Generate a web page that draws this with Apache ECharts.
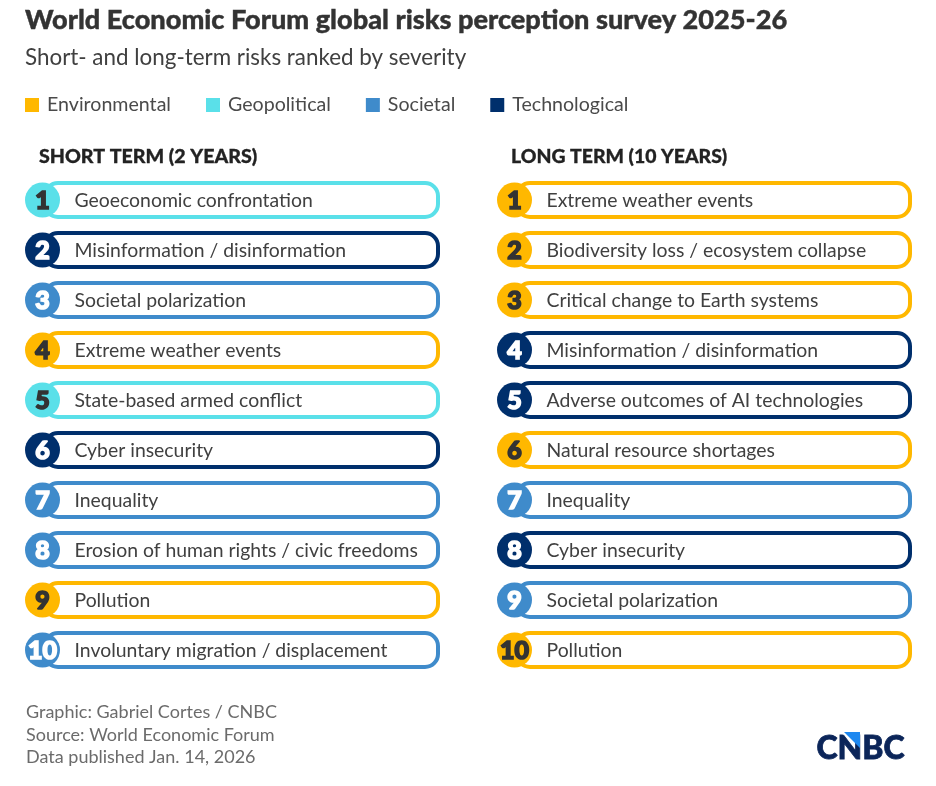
<!DOCTYPE html>
<html>
<head>
<meta charset="utf-8">
<style>
  html, body { margin: 0; padding: 0; background: #fff; }
  #chart { width: 936px; height: 786px; }
</style>
<script src="https://cdn.jsdelivr.net/npm/echarts@6/dist/echarts.min.js"></script>
</head>
<body>
<div id="chart"></div>
<script>
const riskTypes = ['Environmental', 'Geopolitical', 'Societal', 'Technological']
const typeColors = ['#FFB800', '#5AE0E9', '#3F8BCB', '#002F6C']
const numberColors = ['#333333', '#333333', '#ffffff', '#ffffff']

const shortTermRisks = [
  'Geoeconomic confrontation', 'Misinformation / disinformation', 'Societal polarization',
  'Extreme weather events', 'State-based armed conflict', 'Cyber insecurity', 'Inequality',
  'Erosion of human rights / civic freedoms', 'Pollution', 'Involuntary migration / displacement'
]
const shortTermTypes = [1, 3, 2, 0, 1, 3, 2, 2, 0, 2]

const longTermRisks = [
  'Extreme weather events', 'Biodiversity loss / ecosystem collapse', 'Critical change to Earth systems',
  'Misinformation / disinformation', 'Adverse outcomes of AI technologies', 'Natural resource shortages',
  'Inequality', 'Cyber insecurity', 'Societal polarization', 'Pollution'
]
const longTermTypes = [0, 0, 0, 3, 3, 0, 2, 3, 2, 0]

const FONT = 'Lato, "Open Sans", sans-serif'

// pill + number circle + label, one row
function renderRisk (params, api) {
  const typeIdx = params.seriesIndex % 4
  const color = typeColors[typeIdx]
  const start = api.coord([0, api.value(1)])
  const end = api.coord([1, api.value(1)])
  const band = api.size([0, 1])[1]
  const h = band * 0.68
  const rank = api.value(1) + 1
  return {
    type: 'group',
    children: [
      {
        type: 'rect',
        shape: { x: start[0] + 20, y: start[1] - h / 2, width: end[0] - start[0] - 22, height: h, r: 13 },
        style: { fill: '#fff', stroke: color, lineWidth: 4 }
      },
      {
        type: 'circle',
        shape: { cx: start[0] + 17.5, cy: start[1], r: 17.5 },
        style: { fill: color }
      },
      {
        type: 'text',
        style: {
          text: String(rank),
          x: start[0] + 17.5,
          y: start[1] + 1,
          align: 'center',
          verticalAlign: 'middle',
          fill: numberColors[typeIdx],
          stroke: numberColors[typeIdx],
          lineWidth: 1.6,
          font: '900 25px ' + FONT
        }
      },
      {
        type: 'text',
        style: {
          text: api.value(2),
          x: start[0] + 49.5,
          y: start[1] + 1,
          align: 'left',
          verticalAlign: 'middle',
          fill: '#404040',
          font: '19.4px ' + FONT
        }
      }
    ]
  }
}

function panelSeries (risks, types, panel) {
  return riskTypes.map((name, typeIdx) => ({
    name: name,
    type: 'custom',
    xAxisIndex: panel,
    yAxisIndex: panel,
    itemStyle: { color: typeColors[typeIdx] },
    renderItem: renderRisk,
    encode: { x: 0, y: 1 },
    clip: false,
    silent: true,
    data: risks.map((risk, i) => [1, i, risk]).filter(d => types[d[1]] === typeIdx)
  }))
}

function rowAxis (risks, panel) {
  return {
    type: 'category',
    gridIndex: panel,
    inverse: true,
    data: risks.map((r, i) => i),
    show: false
  }
}

const chart = echarts.init(document.getElementById('chart'), null, { renderer: 'canvas' })
chart.setOption({
  animation: false,
  backgroundColor: '#fff',
  title: [
    {
      text: 'World Economic Forum global risks perception survey 2025-26',
      left: 25, top: 7, padding: 0,
      textStyle: { fontFamily: FONT, fontSize: 27.15, fontWeight: 900, color: '#333333', textBorderColor: '#333333', textBorderWidth: 0.4 }
    },
    {
      text: 'Short- and long-term risks ranked by severity',
      left: 25, top: 47, padding: 0,
      textStyle: { fontFamily: FONT, fontSize: 22.4, fontWeight: 400, color: '#404040' }
    },
    {
      text: 'SHORT TERM (2 YEARS)',
      left: 39, top: 147, padding: 0,
      textStyle: { fontFamily: FONT, fontSize: 19.6, fontWeight: 900, color: '#222222', textBorderColor: '#222222', textBorderWidth: 0.3 }
    },
    {
      text: 'LONG TERM (10 YEARS)',
      left: 511, top: 147, padding: 0,
      textStyle: { fontFamily: FONT, fontSize: 19.4, fontWeight: 900, color: '#222222', textBorderColor: '#222222', textBorderWidth: 0.3 }
    },
    {
      text: 'Graphic: Gabriel Cortes / CNBC\nSource: World Economic Forum\nData published Jan. 14, 2026',
      left: 26, top: 701, padding: 0,
      textStyle: { fontFamily: FONT, fontSize: 18, fontWeight: 400, color: '#6b6b6b', lineHeight: 22.5 }
    }
  ],
  legend: {
    data: riskTypes,
    left: 25, top: 95,
    padding: 0,
    icon: 'rect',
    itemWidth: 14, itemHeight: 14,
    itemGap: 35,
    selectedMode: false,
    textStyle: { fontFamily: FONT, fontSize: 19.6, color: '#4a4a4a', padding: [0, 0, 0, 3] }
  },
  grid: [
    { left: 25, top: 175, width: 415, height: 500 },
    { left: 497, top: 175, width: 415, height: 500 }
  ],
  xAxis: [
    { type: 'value', gridIndex: 0, min: 0, max: 1, show: false },
    { type: 'value', gridIndex: 1, min: 0, max: 1, show: false }
  ],
  yAxis: [rowAxis(shortTermRisks, 0), rowAxis(longTermRisks, 1)],
  series: panelSeries(shortTermRisks, shortTermTypes, 0).concat(panelSeries(longTermRisks, longTermTypes, 1)),
  graphic: [
    {
      type: 'text',
      left: 816, top: 732,
      style: { text: 'CNBC', fill: '#0B2559', stroke: '#0B2559', lineWidth: 0.8, font: '900 32px ' + FONT }
    },
    {
      type: 'polygon',
      shape: { points: [[844, 732], [860, 732], [860, 748]] },
      style: { fill: '#1E88F0' }
    }
  ]
})
</script>
</body>
</html>
